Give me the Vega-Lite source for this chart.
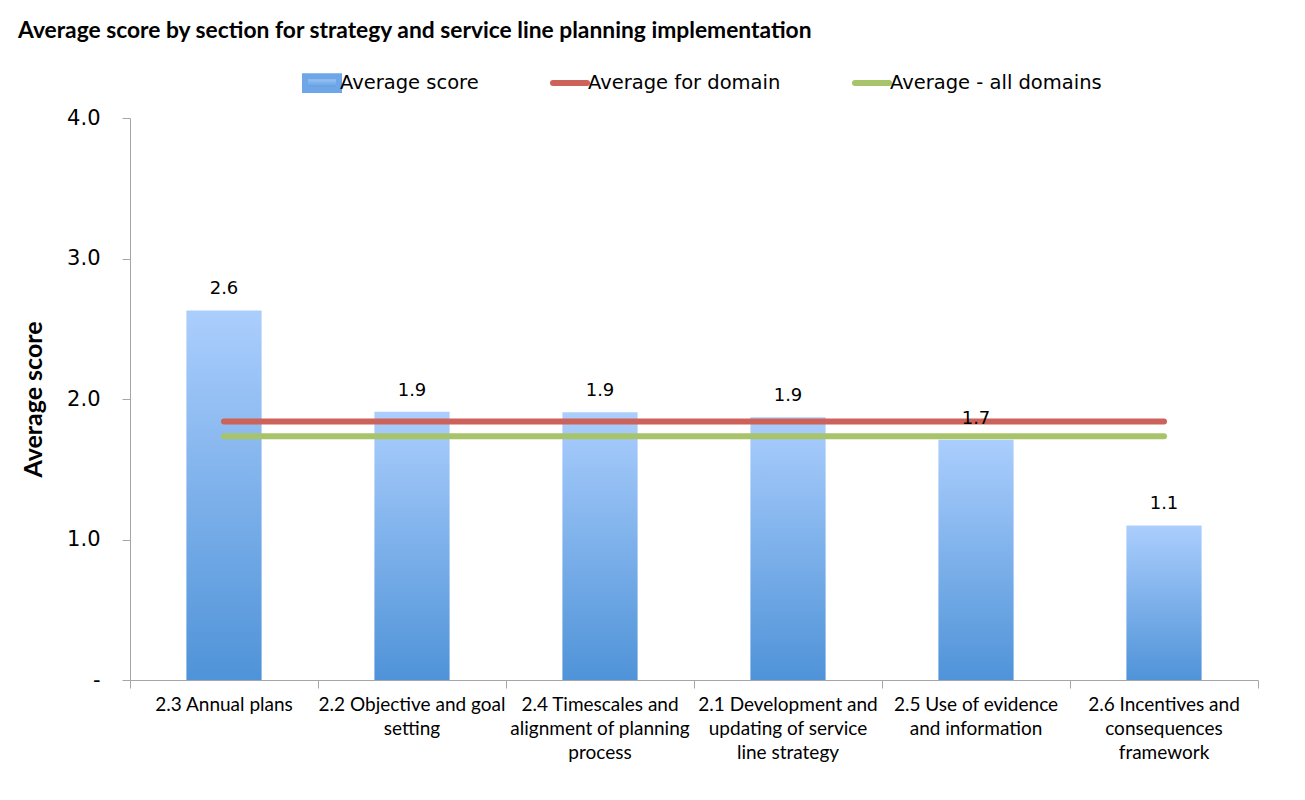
{
  "$schema": "https://vega.github.io/schema/vega-lite/v6.json",
  "width": 1128,
  "height": 562,
  "autosize": {"type": "none"},
  "padding": {"left": 130, "top": 118, "right": 47, "bottom": 120},
  "background": "white",
  "config": {"view": {"stroke": null}, "font": "Lato"},
  "title": {
    "text": "Average score by section for strategy and service line planning implementation",
    "anchor": "start",
    "frame": "group",
    "dx": -112,
    "offset": 20,
    "font": "Lato",
    "fontSize": 22.8,
    "fontWeight": "bold",
    "color": "black"
  },
  "data": {
    "values": [
      {"section": "2.3 Annual plans", "score": 2.63, "domain_avg": 1.84, "all_avg": 1.735},
      {"section": "2.2 Objective and goal setting", "score": 1.91, "domain_avg": 1.84, "all_avg": 1.735},
      {"section": "2.4 Timescales and alignment of planning process", "score": 1.905, "domain_avg": 1.84, "all_avg": 1.735},
      {"section": "2.1 Development and updating of service line strategy", "score": 1.87, "domain_avg": 1.84, "all_avg": 1.735},
      {"section": "2.5 Use of evidence and information", "score": 1.71, "domain_avg": 1.84, "all_avg": 1.735},
      {"section": "2.6 Incentives and consequences framework", "score": 1.1, "domain_avg": 1.84, "all_avg": 1.735}
    ]
  },
  "encoding": {
    "x": {
      "field": "section",
      "type": "nominal",
      "sort": null,
      "scale": {"paddingInner": 0, "paddingOuter": 0},
      "axis": {
        "title": null,
        "labelAngle": 0,
        "labelFont": "Lato",
        "labelFontSize": 19,
        "labelColor": "black",
        "labelLineHeight": 24,
        "labelBaseline": "top",
        "labelPadding": 7,
        "labelLimit": 400,
        "domainColor": "#a6a6a6",
        "tickColor": "#a6a6a6",
        "tickSize": 8,
        "bandPosition": 1,
        "tickExtra": true,
        "labelExpr": "datum.value === '2.2 Objective and goal setting' ? ['2.2 Objective and goal', 'setting'] : datum.value === '2.4 Timescales and alignment of planning process' ? ['2.4 Timescales and', 'alignment of planning', 'process'] : datum.value === '2.1 Development and updating of service line strategy' ? ['2.1 Development and', 'updating of service', 'line strategy'] : datum.value === '2.5 Use of evidence and information' ? ['2.5 Use of evidence', 'and information'] : datum.value === '2.6 Incentives and consequences framework' ? ['2.6 Incentives and', 'consequences', 'framework'] : datum.value"
      }
    }
  },
  "layer": [
    {
      "mark": {
        "type": "bar",
        "width": {"band": 0.4},
        "color": {
          "gradient": "linear",
          "x1": 0, "y1": 0, "x2": 0, "y2": 1,
          "stops": [
            {"offset": 0, "color": "#abcefd"},
            {"offset": 1, "color": "#4f93d8"}
          ]
        }
      },
      "encoding": {
        "y": {
          "field": "score",
          "type": "quantitative",
          "title": "Average score",
          "scale": {"domain": [0, 4], "nice": false},
          "axis": {
            "values": [0, 1, 2, 3, 4],
            "grid": false,
            "labelExpr": "datum.value === 0 ? '-' : format(datum.value, '.1f')",
            "labelFont": "DejaVu Sans",
            "labelFontSize": 21,
            "labelColor": "black",
            "labelPadding": 22,
            "domainColor": "#a6a6a6",
            "tickColor": "#a6a6a6",
            "tickSize": 8,
            "titleFont": "Lato",
            "titleFontSize": 25,
            "titleFontWeight": "bold",
            "titleColor": "black",
            "titlePadding": 20
          }
        }
      }
    },
    {
      "mark": {"type": "line", "strokeWidth": 6, "strokeCap": "round"},
      "encoding": {
        "y": {"field": "domain_avg", "type": "quantitative", "title": "Average score"},
        "color": {
          "datum": "Average for domain",
          "scale": {
            "domain": ["Average score", "Average for domain", "Average - all domains"],
            "range": ["#6fa6e8", "#cd625b", "#a8c46a"]
          },
          "legend": {
            "orient": "none",
            "legendX": 172,
            "legendY": -55,
            "direction": "horizontal",
            "title": null,
            "labelFont": "DejaVu Sans",
            "labelFontSize": 19.5,
            "labelColor": "black",
            "labelOffset": -2,
            "labelLimit": 400,
            "symbolSize": 1156,
            "columnPadding": 62,
            "encode": {
              "symbols": {
                "update": {
                  "shape": {"signal": "datum.value === 'Average score' ? 'M-1,-0.4H1V0.4H-1Z' : 'M-1,-0.4M-1,0H1M1,0.4'"},
                  "fill": {"signal": "datum.value === 'Average score' ? {gradient: 'linear', x1: 0, y1: 0, x2: 0, y2: 1, stops: [{offset: 0, color: '#abcefd'}, {offset: 1, color: '#4f93d8'}]} : 'transparent'"},
                  "stroke": {"signal": "datum.value === 'Average for domain' ? '#cd625b' : datum.value === 'Average - all domains' ? '#a8c46a' : 'transparent'"},
                  "strokeWidth": {"value": 6},
                  "strokeCap": {"value": "round"},
                  "opacity": {"value": 1}
                }
              }
            }
          }
        }
      }
    },
    {
      "mark": {"type": "line", "strokeWidth": 6, "strokeCap": "round"},
      "encoding": {
        "y": {"field": "all_avg", "type": "quantitative", "title": "Average score"},
        "color": {"datum": "Average - all domains"}
      }
    },
    {
      "mark": {"type": "text", "dy": -16, "baseline": "alphabetic", "font": "DejaVu Sans", "fontSize": 18, "color": "black"},
      "encoding": {
        "y": {"field": "score", "type": "quantitative", "title": "Average score"},
        "text": {"field": "score", "type": "quantitative", "format": ".1f"}
      }
    }
  ]
}
